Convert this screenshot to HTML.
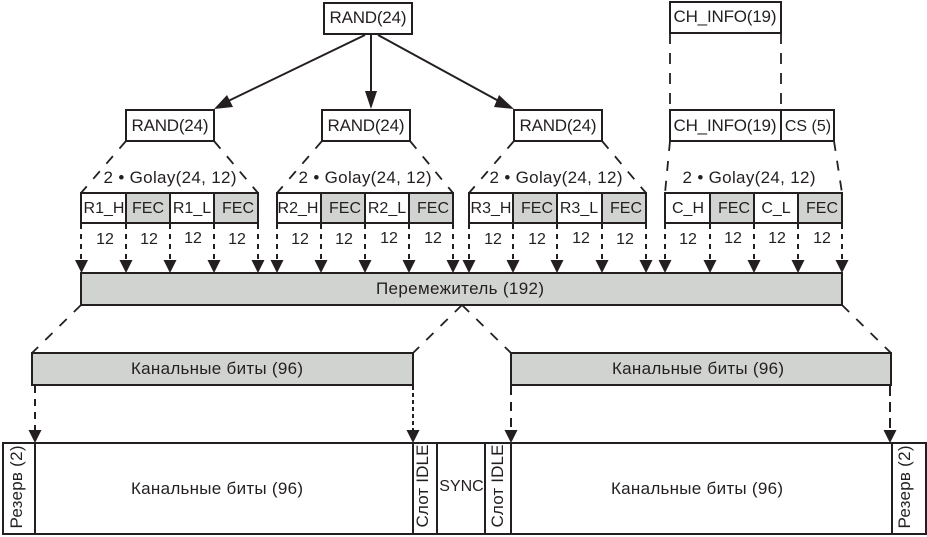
<!DOCTYPE html>
<html><head><meta charset="utf-8"><style>
html,body{margin:0;padding:0;background:#fff}
svg{display:block}
text{font-family:"Liberation Sans",sans-serif;font-size:16px;fill:#231f20;text-anchor:middle}
.l{font-size:17px}
.b{stroke:#231f20;stroke-width:2;fill:#fff}
.g{stroke:#231f20;stroke-width:2;fill:#d1d3d1}
.d{stroke:#231f20;stroke-width:1.8;fill:none;stroke-dasharray:10 10}
.c{stroke:#231f20;stroke-width:1.8;fill:none;stroke-dasharray:11 9}
.v{stroke:#231f20;stroke-width:2;fill:none;stroke-dasharray:5 5}
.s{stroke:#231f20;stroke-width:2;fill:none}
.a{fill:#231f20}
</style></head><body>
<svg width="927" height="537" viewBox="0 0 927 537" xmlns="http://www.w3.org/2000/svg">
<!-- top -->
<rect class="b" x="324" y="3" width="88" height="31"/>
<text class="l" x="368" y="23" textLength="77">RAND(24)</text>
<rect class="b" x="670" y="2" width="111" height="31"/>
<text class="l" x="725" y="22" textLength="103">CH_INFO(19)</text>
<path class="s" d="M365 35L222 104M371 35V102M378 35L506 105"/>
<path class="a" d="M214 109L227 95L233 107ZM371 109L365 91H377ZM514 109L494 107L499 95Z"/>
<path class="c" d="M670 33V110M781 33V110"/>
<!-- level 2 -->
<rect class="b" x="126" y="110" width="88" height="31"/>
<text class="l" x="170" y="131" textLength="77">RAND(24)</text>
<rect class="b" x="322" y="110" width="88" height="31"/>
<text class="l" x="366" y="131" textLength="77">RAND(24)</text>
<rect class="b" x="514" y="110" width="88" height="31"/>
<text class="l" x="558" y="131" textLength="77">RAND(24)</text>
<rect class="b" x="670" y="110" width="111" height="31"/>
<text class="l" x="725" y="131" textLength="103">CH_INFO(19)</text>
<rect class="b" x="781" y="110" width="53" height="31"/>
<text x="808" y="131">CS (5)</text>
<!-- dashed fans -->
<path class="d" d="M126 141L81 193M214 141L258 193M322 141L277 193M410 141L453 193M514 141L469 193M602 141L646 193M670 141L665 193M834 141L842 193"/>
<text class="l" x="170" y="183" textLength="133">2 • Golay(24, 12)</text>
<text class="l" x="365" y="183" textLength="133">2 • Golay(24, 12)</text>
<text class="l" x="556" y="183" textLength="133">2 • Golay(24, 12)</text>
<text class="l" x="749" y="183" textLength="133">2 • Golay(24, 12)</text>
<!-- groups -->
<g>
<rect class="b" x="81" y="193" width="45" height="30"/><rect class="g" x="126" y="193" width="44" height="30"/><rect class="b" x="170" y="193" width="44" height="30"/><rect class="g" x="214" y="193" width="44" height="30"/>
<text x="104" y="213">R1_H</text><text x="148" y="213">FEC</text><text x="192" y="213">R1_L</text><text x="238" y="213">FEC</text>
<rect class="b" x="277" y="193" width="44" height="30"/><rect class="g" x="321" y="193" width="44" height="30"/><rect class="b" x="365" y="193" width="44" height="30"/><rect class="g" x="409" y="193" width="44" height="30"/>
<text x="298" y="213">R2_H</text><text x="345" y="213">FEC</text><text x="387" y="213">R2_L</text><text x="433" y="213">FEC</text>
<rect class="b" x="469" y="193" width="44" height="30"/><rect class="g" x="513" y="193" width="44" height="30"/><rect class="b" x="557" y="193" width="45" height="30"/><rect class="g" x="602" y="193" width="44" height="30"/>
<text x="491" y="213">R3_H</text><text x="537" y="213">FEC</text><text x="579" y="213">R3_L</text><text x="626" y="213">FEC</text>
<rect class="b" x="665" y="193" width="45" height="30"/><rect class="g" x="710" y="193" width="44" height="30"/><rect class="b" x="754" y="193" width="44" height="30"/><rect class="g" x="798" y="193" width="44" height="30"/>
<text x="688" y="213">C_H</text><text x="734" y="213">FEC</text><text x="776" y="213">C_L</text><text x="822" y="213">FEC</text>
</g>
<!-- 12s -->
<text x="105" y="244">12</text><text x="149" y="244">12</text><text x="193" y="243">12</text><text x="237" y="244">12</text>
<text x="300" y="244">12</text><text x="344" y="244">12</text><text x="389" y="243">12</text><text x="433" y="243">12</text>
<text x="493" y="244">12</text><text x="537" y="244">12</text><text x="581" y="243">12</text><text x="625" y="244">12</text>
<text x="688" y="244">12</text><text x="733" y="243">12</text><text x="777" y="243">12</text><text x="822" y="243">12</text>
<!-- dotted arrows -->
<path class="v" d="M81 224V262M126 224V262M170 224V262M214 224V262M258 224V262M277 224V262M321 224V262M365 224V262M409 224V262M453 224V262M469 224V262M513 224V262M557 224V262M602 224V262M646 224V262M665 224V262M710 224V262M754 224V262M798 224V262M842 224V262"/>
<path class="a" d="M75 260h13l-6.500 13zM119.500 260h13l-6.500 13zM163.500 260h13l-6.500 13zM207.500 260h13l-6.500 13zM251.500 260h13l-6.500 13zM270.500 260h13l-6.500 13zM314.500 260h13l-6.500 13zM358.500 260h13l-6.500 13zM402.500 260h13l-6.500 13zM446.500 260h13l-6.500 13zM462.500 260h13l-6.500 13zM506.500 260h13l-6.500 13zM550.500 260h13l-6.500 13zM595.500 260h13l-6.500 13zM639.500 260h13l-6.500 13zM658.500 260h13l-6.500 13zM703.500 260h13l-6.500 13zM747.500 260h13l-6.500 13zM791.500 260h13l-6.500 13zM835.500 260h13l-6.500 13z"/>
<!-- bar -->
<rect class="g" x="81" y="273" width="761" height="32"/>
<text class="l" x="460" y="294" textLength="168">Перемежитель (192)</text>
<!-- fans 2 -->
<path class="d" d="M81 305L32 353M462 305L413 353M462 305L511 353M842 305L891 353"/>
<rect class="g" x="32" y="353" width="381" height="32"/>
<text class="l" x="217" y="374" textLength="172">Канальные биты (96)</text>
<rect class="g" x="511" y="353" width="380" height="32"/>
<text class="l" x="698" y="374" textLength="172">Канальные биты (96)</text>
<path class="s" stroke-dasharray="7 6" d="M35 386V432"/>
<path class="s" stroke-dasharray="4 3" d="M413 386V432"/>
<path class="s" stroke-dasharray="9 7" d="M511 386V432"/>
<path class="s" stroke-dasharray="10 6" d="M890 386V432"/>
<path class="a" d="M28.500 430h13l-6.500 13zM406.500 430h13l-6.500 13zM504.500 430h13l-6.500 13zM883.500 430h13l-6.500 13z"/>
<!-- bottom -->
<rect class="b" x="3" y="443" width="923" height="91"/>
<path class="s" d="M35 443V534M413 443V534M437 443V534M485 443V534M511 443V534M892 443V534"/>
<text class="l" x="217" y="494" textLength="172">Канальные биты (96)</text>
<text class="l" x="697" y="494" textLength="172">Канальные биты (96)</text>
<text x="461.500" y="491">SYNC</text>
<text class="l" transform="translate(22,487) rotate(-90)" x="0" y="0" textLength="83">Резерв (2)</text>
<text class="l" transform="translate(910,487) rotate(-90)" x="0" y="0" textLength="83">Резерв (2)</text>
<text class="l" transform="translate(428,486) rotate(-90)" x="0" y="0" textLength="83">Слот IDLE</text>
<text class="l" transform="translate(503,486) rotate(-90)" x="0" y="0" textLength="83">Слот IDLE</text>
</svg>
</body></html>
